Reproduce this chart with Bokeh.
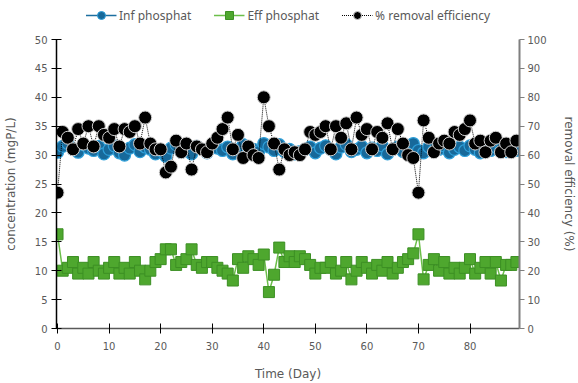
from bokeh.plotting import figure
from bokeh.layouts import column
from bokeh.models import Range1d, LinearAxis, Legend, LegendItem, FixedTicker
from bokeh.embed import file_html
from bokeh.resources import INLINE

days = list(range(90))

inf_phosphat = [
    30.5, 31.5, 32.0, 31.0, 30.5, 31.8, 31.2, 30.8, 31.5, 30.2,
    31.0, 31.6, 30.4, 30.0, 31.2, 31.8, 30.6, 31.4, 31.0, 30.2,
    30.8, 29.8, 31.2, 31.8, 30.5, 31.0, 30.2, 31.5, 31.0, 30.4,
    31.6, 31.2, 30.8, 31.4, 30.2, 31.0, 31.8, 30.4, 31.0, 30.6,
    32.0, 31.4, 30.8, 31.8, 30.6, 31.0, 30.2, 30.6, 31.0, 31.4,
    30.4, 31.2, 31.6, 31.0, 30.2, 31.4, 31.8, 30.6, 31.0, 31.5,
    30.4, 31.2, 30.8, 31.6, 30.2, 31.0, 31.4, 30.6, 31.6, 32.0,
    30.8, 30.4, 31.4, 30.8, 31.0, 31.6, 30.4, 31.0, 31.4, 30.8,
    31.6, 31.0, 30.4, 31.2, 30.8, 31.4, 31.0, 30.6, 31.2, 30.8,
]

eff_phosphat = [
    16.3, 10.0, 10.5, 11.5, 9.5, 10.5, 9.5, 11.5, 10.0, 9.5,
    10.5, 11.5, 9.5, 10.5, 9.5, 11.5, 10.0, 8.5, 10.0, 11.5,
    12.0, 13.7, 13.7, 11.0, 11.5, 12.0, 13.7, 11.0, 10.5, 11.5,
    11.5, 10.5, 10.0, 9.5, 8.3, 12.0, 10.5, 12.5, 12.0, 11.0,
    12.8, 6.3, 9.3, 14.0, 11.5, 12.5, 11.5, 12.5, 12.0, 11.0,
    9.5, 10.5, 10.5, 11.5, 9.5, 10.0, 11.5, 8.5, 10.0, 11.5,
    10.5, 9.5, 11.0, 10.0, 11.5, 9.5, 10.5, 11.5, 12.0, 13.0,
    16.3, 8.5, 11.0, 12.0, 10.0, 11.5, 9.5, 10.5, 9.5, 10.5,
    12.0, 9.5, 10.5, 11.5, 9.5, 11.5, 8.3, 11.0, 11.0, 11.5,
]

removal_eff = [
    47, 68, 66, 62, 69, 64, 70, 63, 70, 67,
    66, 69, 63, 69, 68, 70, 64, 73, 64, 62,
    62, 54, 56, 65, 61, 64, 55, 63, 62, 61,
    64, 66, 69, 73, 62, 67, 59, 63, 60, 59,
    80, 70, 64, 55, 62, 60, 61, 60, 62, 68,
    67, 68, 70, 62, 70, 66, 71, 62, 73, 67,
    69, 62, 68, 66, 71, 62, 69, 64, 60, 59,
    47, 72, 66, 61, 64, 65, 64, 68, 67, 69,
    72, 64, 65, 61, 65, 66, 61, 64, 61, 65,
]

series_names = ["Inf phosphat", "Eff phosphat", "% removal efficiency"]

x_ticks = [0, 10, 20, 30, 40, 50, 60, 70, 80]
left_ticks = [0, 5, 10, 15, 20, 25, 30, 35, 40, 45, 50]
right_ticks = [0, 10, 20, 30, 40, 50, 60, 70, 80, 90, 100]

FONT = "DejaVu Sans"
LEG_FONT = "Noto Sans"
GRAY = "#595959"

BLUE_FILL, BLUE_EDGE, BLUE_LINE = "#17699A", "#2E9FD9", "#1d6fa0"
GREEN_FILL, GREEN_EDGE, GREEN_LINE = "#4ea72e", "#3c8f24", "#6cbf4a"

# ---------------- main chart ----------------
p = figure(width=578, height=353, output_backend="svg", toolbar_location=None,
           x_range=Range1d(-0.2, 89.6), y_range=Range1d(0, 50))
p.min_border_left = 55
p.min_border_right = 54
p.min_border_top = 9
p.min_border_bottom = 54
p.outline_line_color = None
p.xgrid.visible = False
p.ygrid.visible = False

p.extra_y_ranges = {"eff": Range1d(0, 100)}

p.line(days, inf_phosphat, line_color=BLUE_LINE, line_width=1.5)
p.scatter(days, inf_phosphat, marker="circle", size=12,
          fill_color=BLUE_FILL, line_color=BLUE_EDGE, line_width=1.2)

p.line(days, eff_phosphat, line_color=GREEN_LINE, line_width=1.5)
p.scatter(days, eff_phosphat, marker="square", size=11,
          fill_color=GREEN_FILL, line_color=GREEN_EDGE, line_width=1)

p.line(days, removal_eff, y_range_name="eff", line_color="black",
       line_width=1, line_dash="1 1")
p.scatter(days, removal_eff, y_range_name="eff", marker="circle", size=13,
          fill_color="black", line_color="#d0d0d0", line_width=1)

def style_axis(ax, line_color, width):
    ax.axis_line_color = line_color
    ax.axis_line_width = width
    ax.major_tick_line_color = line_color
    ax.major_tick_line_width = 1
    ax.minor_tick_line_color = None
    ax.major_label_text_color = GRAY
    ax.major_label_text_font = FONT
    ax.major_label_text_font_size = "10px"
    ax.axis_label_text_color = GRAY
    ax.axis_label_text_font = FONT
    ax.axis_label_text_font_size = "12px"
    ax.axis_label_text_font_style = "normal"

xa = p.xaxis[0]
style_axis(xa, "#595959", 1.5)
xa.major_tick_line_color = "black"
xa.ticker = FixedTicker(ticks=x_ticks)
xa.major_tick_in = 5
xa.major_tick_out = 5
xa.major_label_standoff = 8
xa.axis_label = "Time (Day)"
xa.axis_label_standoff = 14

ya = p.yaxis[0]
style_axis(ya, "black", 1.5)
ya.ticker = FixedTicker(ticks=left_ticks)
ya.major_tick_in = 5
ya.major_tick_out = 5
ya.major_label_standoff = 4
ya.axis_label = "concentration (mgP/L)"
ya.axis_label_standoff = 14

ra = LinearAxis(y_range_name="eff")
style_axis(ra, "#7f7f7f", 2)
ra.ticker = FixedTicker(ticks=right_ticks)
ra.major_tick_in = 0
ra.major_tick_out = 5
ra.major_label_standoff = 3
ra.axis_label = "removal efficiency (%)"
ra.axis_label_standoff = 12
p.add_layout(ra, "right")

# ---------------- legend strip ----------------
# legend-only renderers: one point placed outside the strip's visible range
lg = figure(width=578, height=30, output_backend="svg", toolbar_location=None,
            x_range=Range1d(0, 1), y_range=Range1d(0, 1))
lg.min_border = 0
lg.outline_line_color = None
lg.axis.visible = False
lg.xgrid.visible = False
lg.ygrid.visible = False

hx, hy = [-10, -11], [-10, -11]
l1 = lg.line(hx, hy, line_color=BLUE_LINE, line_width=1.5)
m1 = lg.scatter(hx, hy, marker="circle", size=10, fill_color=BLUE_FILL, line_color=BLUE_EDGE, line_width=1)
l2 = lg.line(hx, hy, line_color=GREEN_LINE, line_width=1.5)
m2 = lg.scatter(hx, hy, marker="square", size=10, fill_color=GREEN_FILL, line_color=GREEN_EDGE, line_width=1)
l3 = lg.line(hx, hy, line_color="black", line_width=1, line_dash="1 1")
m3 = lg.scatter(hx, hy, marker="circle", size=10, fill_color="black", line_color="#d0d0d0", line_width=1)

legend = Legend(items=[
    LegendItem(label=series_names[0], renderers=[l1, m1]),
    LegendItem(label=series_names[1], renderers=[l2, m2]),
    LegendItem(label=series_names[2], renderers=[l3, m3]),
], orientation="horizontal", location="center")
legend.label_text_font = LEG_FONT
legend.label_text_font_size = "12px"
legend.label_text_color = GRAY
legend.border_line_color = None
legend.background_fill_alpha = 0
legend.spacing = 22
legend.glyph_width = 31
legend.label_standoff = 3
legend.padding = 0
legend.margin = 0
lg.add_layout(legend, "center")

layout = column(lg, p, spacing=0)
open("out.html", "w").write(file_html(layout, INLINE))
